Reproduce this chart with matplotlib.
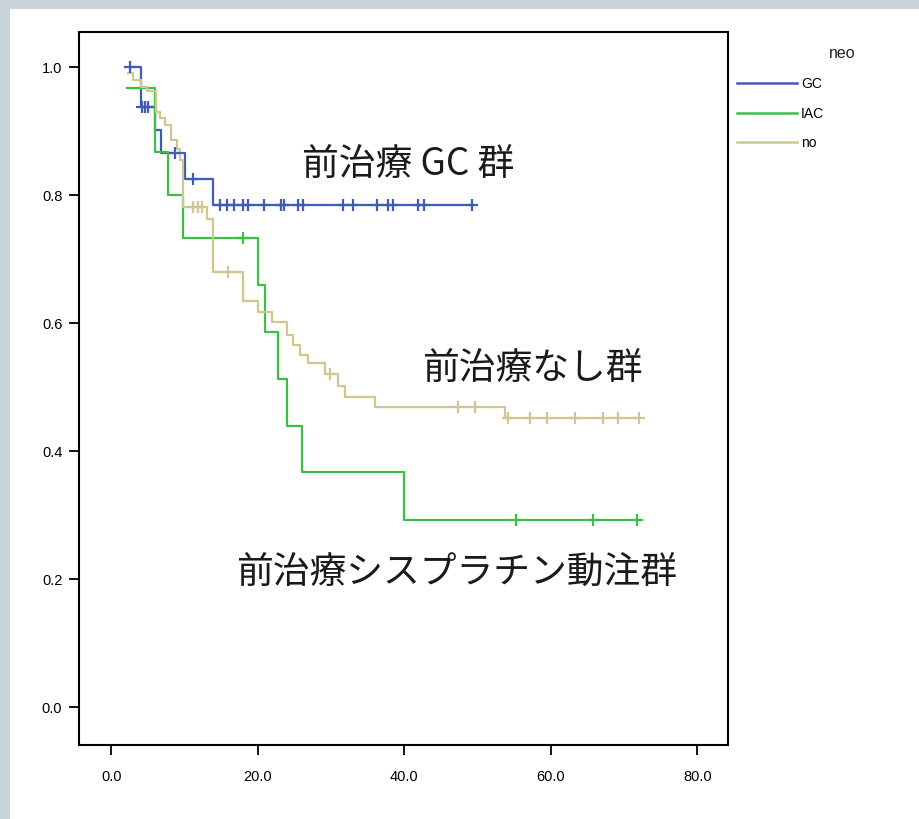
import numpy as np
import matplotlib
matplotlib.use("Agg")
import matplotlib.pyplot as plt
from matplotlib.lines import Line2D
from matplotlib.patches import Rectangle

plt.rcParams['font.family'] = ['Liberation Sans', 'Noto Sans CJK JP', 'DejaVu Sans']

# ---- data (months, survival) ----
gc_times = [2.5, 4.0, 6.0, 6.8, 10.1, 13.9]
gc_surv = [1.0, 0.9375, 0.902, 0.866, 0.825, 0.785]
gc_end = 49.3
gc_censor = [2.5, 4.2, 4.6, 5.0, 8.7, 11.1, 14.9, 15.8, 16.7, 18.0, 18.7, 20.9,
             23.2, 23.6, 25.5, 26.2, 31.7, 33.0, 36.3, 37.8, 38.4, 41.9, 42.7, 49.3]

iac_times = [2.2, 6.0, 7.8, 9.8, 20.1, 21.0, 22.8, 24.0, 26.1, 40.0]
iac_surv = [0.967, 0.867, 0.80, 0.733, 0.66, 0.587, 0.513, 0.44, 0.367, 0.293]
iac_end = 71.8
iac_censor = [18.0, 55.2, 65.8, 71.8]

no_times = [2.3, 3.0, 4.0, 4.9, 6.1, 6.7, 7.4, 8.2, 9.0, 9.4, 9.8, 13.1, 13.9,
            18.0, 20.1, 22.0, 24.0, 24.8, 25.8, 26.8, 29.2, 30.9, 31.9, 36.0, 53.8]
no_surv = [0.991, 0.980, 0.969, 0.9625, 0.930, 0.920, 0.909, 0.886, 0.872, 0.855,
           0.781, 0.7625, 0.680, 0.634, 0.617, 0.602, 0.581, 0.566, 0.550, 0.5375,
           0.520, 0.502, 0.484, 0.469, 0.452]
no_end = 72.1
no_censor = [11.2, 11.9, 12.4, 16.0, 29.9, 47.4, 49.7, 54.1, 57.2, 59.5, 63.3,
             67.2, 69.2, 72.1]

groups = ['GC', 'IAC', 'no']
colors = ['#3f5cb8', '#3cbf46', '#d0c690']
labels_jp = ['前治療 GC 群', '前治療なし群', '前治療シスプラチン動注群']
label_pos = [(40.5, 0.848), (57.5, 0.53), (47.1, 0.211)]

xticks = [0, 20, 40, 60, 80]
yticks = [0.0, 0.2, 0.4, 0.6, 0.8, 1.0]

W, H = 919, 819
fig = plt.figure(figsize=(W / 100, H / 100), dpi=100)
fig.patch.set_facecolor('#c9d3db')
fig.add_artist(Rectangle((10 / W, 0), 1 - 10 / W, 1 - 9 / H, transform=fig.transFigure,
                         facecolor='white', edgecolor='none', zorder=0))

ax = fig.add_axes([79 / W, 1 - 745 / H, (728 - 79) / W, (745 - 32) / H])
ax.set_facecolor('white')

def km(times, surv, end, censor, color):
    t = list(times) + [end]
    s = list(surv) + [surv[-1]]
    ax.step(t, s, where='post', color=color, lw=1.6, zorder=3)
    idx = np.searchsorted(np.array(times), np.array(censor), side='right') - 1
    idx = np.clip(idx, 0, len(surv) - 1)
    cy = np.array(surv)[idx]
    ax.plot(censor, cy, linestyle='none', marker='+', color=color, ms=9, mew=1.6, zorder=4)

km(gc_times, gc_surv, gc_end, gc_censor, colors[0])
km(iac_times, iac_surv, iac_end, iac_censor, colors[1])
km(no_times, no_surv, no_end, no_censor, colors[2])

ax.set_xlim(-4.4, 84.2)
ax.set_ylim(-0.059, 1.055)
ax.set_xticks(xticks)
ax.set_xticklabels([f'{v:.1f}' for v in xticks])
ax.set_yticks(yticks)
ax.set_yticklabels([f'{v:.1f}' for v in yticks])
ax.tick_params(direction='out', length=7, width=1.3, labelsize=10.5, colors='black', pad=5)
ax.tick_params(axis='x', pad=11)
for sp in ax.spines.values():
    sp.set_linewidth(1.5)
    sp.set_color('black')

for txt, (x, y) in zip(labels_jp, label_pos):
    ax.text(x, y, txt, ha='center', va='center', fontsize=26.5, color='#1a1a1a',
            family=['Noto Sans CJK JP', 'DejaVu Sans'], zorder=5)

handles = [Line2D([], [], color=c, lw=1.8) for c in colors]
fig.legend(handles, groups, loc='upper left', bbox_to_anchor=(737 / W, 1 - 77 / H),
           frameon=False, fontsize=10, handlelength=4.3, handletextpad=0.3,
           labelspacing=1.12, borderpad=0, borderaxespad=0)
fig.text(842 / W, 1 - 53 / H, 'neo', ha='center', va='center', fontsize=11.5, color='#222222')

fig.savefig('out.png', dpi=100, facecolor=fig.get_facecolor())
